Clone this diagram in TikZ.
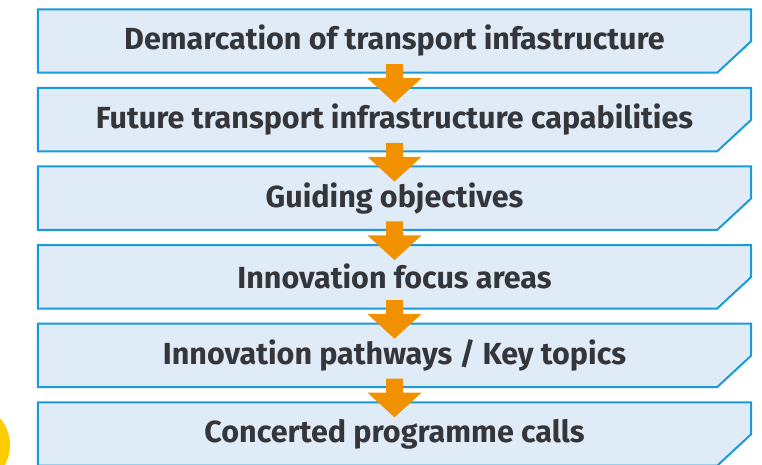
\documentclass[tikz,border=0pt]{standalone}
\usepackage{fontspec}
\setmainfont{Fira Sans}
\pgfdeclarelayer{background}
\pgfsetlayers{background,main}
\definecolor{boxfill}{HTML}{DFEBF7}
\definecolor{boxline}{HTML}{1A9BD7}
\definecolor{arrowc}{HTML}{F29100}
\definecolor{txt}{HTML}{35363A}
\definecolor{dotc}{HTML}{FFCC00}
\tikzset{
  stepbox/.style={minimum width=713pt, minimum height=63pt, inner sep=0pt,
    text=txt, font=\fontsize{30.5}{33}\selectfont\bfseries},
  boxshape/.style={fill=boxfill, draw=boxline, line width=2pt, line join=miter},
  arrowshape/.style={fill=arrowc}
}
\begin{document}
\begin{tikzpicture}[x=1pt,y=-1pt]
\useasboundingbox (0,0) rectangle (762,465);
\clip (0,0) rectangle (762,465);
\fill[dotc] (-31,445) circle (41);
\node[stepbox] (b1) at (394.5,41) {Demarcation of transport infastructure};
\node[stepbox] (b2) at (394.5,119.6) {Future transport infrastructure capabilities};
\node[stepbox] (b3) at (394.5,198.2) {Guiding objectives};
\node[stepbox] (b4) at (394.5,276.8) {Innovation focus areas};
\node[stepbox] (b5) at (394.5,355.4) {Innovation pathways / Key topics};
\node[stepbox] (b6) at (394.5,434) {Concerted programme calls};
\begin{pgfonlayer}{background}
\foreach \n in {b1,b2,b3,b4,b5,b6}
  \draw[boxshape] (\n.north west) -- (\n.north east) -- ([yshift=31.5pt]\n.south east)
     -- ([xshift=-34pt]\n.south east) -- (\n.south west) -- cycle;
\end{pgfonlayer}
\foreach \a/\b in {b1/b2,b2/b3,b3/b4,b4/b5,b5/b6}
  \fill[arrowshape] ([shift={(-8.5,-8.5)}]\a.south) -- ([shift={(8.5,-8.5)}]\a.south)
     -- ([shift={(8.5,5.5)}]\a.south) -- ([shift={(27,5.5)}]\a.south)
     -- ([shift={(0,15)}]\b.north) -- ([shift={(-27,5.5)}]\a.south)
     -- ([shift={(-8.5,5.5)}]\a.south) -- cycle;
\end{tikzpicture}
\end{document}
